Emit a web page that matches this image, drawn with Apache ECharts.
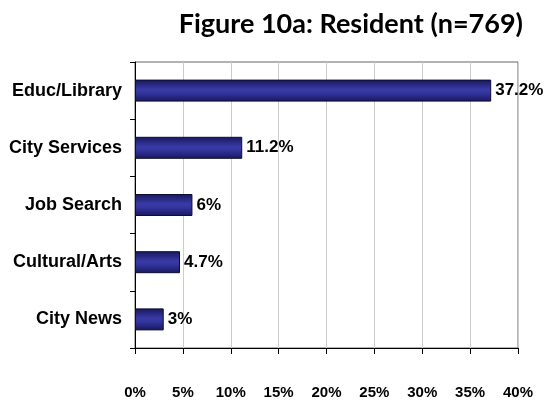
<!DOCTYPE html>
<html>
<head>
<meta charset="utf-8">
<script src="https://cdn.jsdelivr.net/npm/echarts@6/dist/echarts.min.js"></script>
<style>
  html, body { margin: 0; padding: 0; background: #fff; }
  #chart { width: 545px; height: 400px; }
</style>
</head>
<body>
<div id="chart"></div>
<script>
// Share of resident responses by topic (percent)
const categories = ['Educ/Library', 'City Services', 'Job Search', 'Cultural/Arts', 'City News'];
const values = [37.2, 11.2, 6, 4.7, 3];
const axisMax = 40;
const axisStep = 5;

const chart = echarts.init(document.getElementById('chart'), null, { renderer: 'canvas' });

const barFill = new echarts.graphic.LinearGradient(0, 0, 0, 1, [
  { offset: 0, color: '#17175e' },
  { offset: 0.45, color: '#3a3aa6' },
  { offset: 0.6, color: '#3535a0' },
  { offset: 1, color: '#17175e' }
]);

chart.setOption({
  animation: false,
  backgroundColor: '#ffffff',
  title: {
    text: 'Figure 10a: Resident (n=769)',
    right: 17,
    top: 6,
    textStyle: {
      fontFamily: 'Lato',
      fontWeight: 'bold',
      fontSize: 27,
      color: '#000'
    }
  },
  grid: {
    left: 135,
    right: 27,
    top: 62,
    bottom: 50,
    show: true,
    borderColor: '#666',
    borderWidth: 1
  },
  xAxis: {
    type: 'value',
    min: 0,
    max: axisMax,
    interval: axisStep,
    axisLine: { show: true, lineStyle: { color: '#000', width: 1 } },
    axisTick: { show: true, length: 6, lineStyle: { color: '#000' } },
    splitLine: { show: true, lineStyle: { color: '#cccccc', width: 1 } },
    axisLabel: {
      formatter: '{value}%',
      margin: 37,
      fontFamily: 'Liberation Sans',
      fontWeight: 'bold',
      fontSize: 15,
      color: '#000'
    }
  },
  yAxis: {
    type: 'category',
    inverse: true,
    data: categories,
    axisLine: { show: true, lineStyle: { color: '#000', width: 1 } },
    axisTick: { show: true, length: 5, alignWithLabel: false, lineStyle: { color: '#000' } },
    axisLabel: {
      margin: 13,
      fontFamily: 'Liberation Sans',
      fontWeight: 'bold',
      fontSize: 18,
      color: '#000'
    }
  },
  series: [{
    type: 'bar',
    data: values,
    barWidth: 22,
    itemStyle: {
      color: barFill,
      borderColor: '#0d0d30',
      borderWidth: 1
    },
    label: {
      show: true,
      position: 'right',
      distance: 4,
      formatter: p => p.value + '%',
      fontFamily: 'Liberation Sans',
      fontWeight: 'bold',
      fontSize: 17,
      color: '#000'
    }
  }]
});
</script>
</body>
</html>
